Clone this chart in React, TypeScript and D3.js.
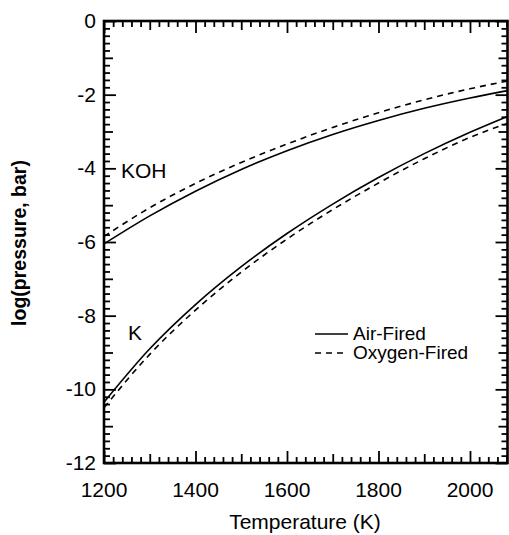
import React, { useEffect, useRef } from "react";
import * as d3 from "d3";

// temperatures (K) and log10 partial pressures
const temps = [1200, 1300, 1400, 1500, 1600, 1700, 1800, 1900, 2000, 2082];
const kohAir = [-6.05, -5.29, -4.62, -4.03, -3.52, -3.08, -2.7, -2.37, -2.09, -1.89];
const kohOxy = [-5.85, -5.07, -4.41, -3.84, -3.34, -2.89, -2.49, -2.14, -1.84, -1.63];
const kAir = [-10.35, -8.9, -7.7, -6.67, -5.77, -4.97, -4.25, -3.6, -3.02, -2.59];
const kOxy = [-10.5, -9.05, -7.85, -6.82, -5.92, -5.12, -4.4, -3.74, -3.16, -2.78];

const xTicks = [1200, 1400, 1600, 1800, 2000];
const yTicks = [0, -2, -4, -6, -8, -10, -12];

const legendItems = [
    { label: "Air-Fired", dash: null },
    { label: "Oxygen-Fired", dash: "6,5" },
];

const W = 509;
const H = 535;

function App() {
    const ref = useRef<SVGSVGElement>(null);

    useEffect(() => {
        const svg = d3.select(ref.current);
        svg.selectAll("*").remove();

        const x = d3.scaleLinear().domain([1200, 2082]).range([104, 507.5]);
        const y = d3.scaleLinear().domain([-12, 0]).range([463, 21]);

        const font = "'Liberation Sans', Arial, sans-serif";
        const left = x(1200);
        const right = x(2082);
        const top = y(0);
        const bottom = y(-12);

        // curves
        const line = d3
            .line<number>()
            .x((d, i) => x(temps[i]))
            .y((d) => y(d))
            .curve(d3.curveMonotoneX);

        const series = [
            { v: kohAir, dash: null },
            { v: kohOxy, dash: "6,5" },
            { v: kAir, dash: null },
            { v: kOxy, dash: "6,5" },
        ];

        svg.append("g")
            .selectAll("path")
            .data(series)
            .enter()
            .append("path")
            .attr("d", (d) => line(d.v))
            .attr("fill", "none")
            .attr("stroke", "#000")
            .attr("stroke-width", 1.6)
            .attr("stroke-dasharray", (d) => d.dash);

        // tick groups: minor / mid / major, pointing into the plot
        const xAll = d3.range(1200, 2082, 20);
        const xGroups = [
            { vals: xAll.filter((t) => t % 100 !== 0), len: 6 },
            { vals: xAll.filter((t) => t % 100 === 0 && t % 200 !== 0), len: 9 },
            { vals: xAll.filter((t) => t % 200 === 0), len: 12 },
        ];
        const yAll = d3.range(0, 61).map((i) => -i * 0.2);
        const yGroups = [
            { vals: yAll.filter((v, i) => i % 5 !== 0), len: 6 },
            { vals: yAll.filter((v, i) => i % 5 === 0 && i % 10 !== 0), len: 9 },
            { vals: yAll.filter((v, i) => i % 10 === 0), len: 12 },
        ];

        const styleAxis = (g: any) => {
            g.select(".domain").remove();
            g.selectAll(".tick text").remove();
            g.selectAll(".tick line").attr("stroke", "#000").attr("stroke-width", 1.8);
        };

        xGroups.forEach((grp) => {
            svg.append("g")
                .attr("transform", `translate(0,${bottom})`)
                .call(d3.axisBottom(x).tickValues(grp.vals).tickSize(-grp.len).tickFormat(() => ""))
                .call(styleAxis);
            svg.append("g")
                .attr("transform", `translate(0,${top})`)
                .call(d3.axisTop(x).tickValues(grp.vals).tickSize(-grp.len).tickFormat(() => ""))
                .call(styleAxis);
        });
        yGroups.forEach((grp) => {
            svg.append("g")
                .attr("transform", `translate(${left},0)`)
                .call(d3.axisLeft(y).tickValues(grp.vals).tickSize(-grp.len).tickFormat(() => ""))
                .call(styleAxis);
            svg.append("g")
                .attr("transform", `translate(${right},0)`)
                .call(d3.axisRight(y).tickValues(grp.vals).tickSize(-grp.len).tickFormat(() => ""))
                .call(styleAxis);
        });

        // frame
        svg.append("rect")
            .attr("x", left)
            .attr("y", top)
            .attr("width", right - left)
            .attr("height", bottom - top)
            .attr("fill", "none")
            .attr("stroke", "#000")
            .attr("stroke-width", 2.6);

        // tick labels
        svg.append("g")
            .selectAll("text")
            .data(xTicks)
            .enter()
            .append("text")
            .attr("x", (d) => x(d))
            .attr("y", 497)
            .attr("text-anchor", "middle")
            .style("font-family", font)
            .style("font-size", "21px")
            .text((d) => d);

        svg.append("g")
            .selectAll("text")
            .data(yTicks)
            .enter()
            .append("text")
            .attr("x", 96)
            .attr("y", (d) => y(d) + 7)
            .attr("text-anchor", "end")
            .style("font-family", font)
            .style("font-size", "21px")
            .text((d) => d);

        // axis titles
        svg.append("text")
            .attr("x", 305)
            .attr("y", 529)
            .attr("text-anchor", "middle")
            .style("font-family", font)
            .style("font-size", "21px")
            .text("Temperature (K)");

        svg.append("text")
            .attr("transform", "translate(26,243) rotate(-90)")
            .attr("text-anchor", "middle")
            .style("font-family", font)
            .style("font-size", "19.5px")
            .style("font-weight", "bold")
            .text("log(pressure, bar)");

        // curve labels
        svg.append("text")
            .attr("x", 121)
            .attr("y", 178)
            .style("font-family", font)
            .style("font-size", "21px")
            .text("KOH");
        svg.append("text")
            .attr("x", 128)
            .attr("y", 340)
            .style("font-family", font)
            .style("font-size", "21px")
            .text("K");

        // legend
        const lg = svg.append("g");
        legendItems.forEach((item, i) => {
            const ly = 334 + i * 19;
            lg.append("line")
                .attr("x1", 315).attr("x2", 348)
                .attr("y1", ly).attr("y2", ly)
                .attr("stroke", "#000")
                .attr("stroke-width", 1.6)
                .attr("stroke-dasharray", item.dash);
            lg.append("text")
                .attr("x", 353)
                .attr("y", ly + 6)
                .style("font-family", font)
                .style("font-size", "19px")
                .text(item.label);
        });
    }, []);

    return (
        <div style={{ position: "absolute", left: 0, top: 0 }}>
            <svg ref={ref} width={W} height={H} style={{ display: "block", background: "#fff" }}></svg>
        </div>
    );
}

export default App;
